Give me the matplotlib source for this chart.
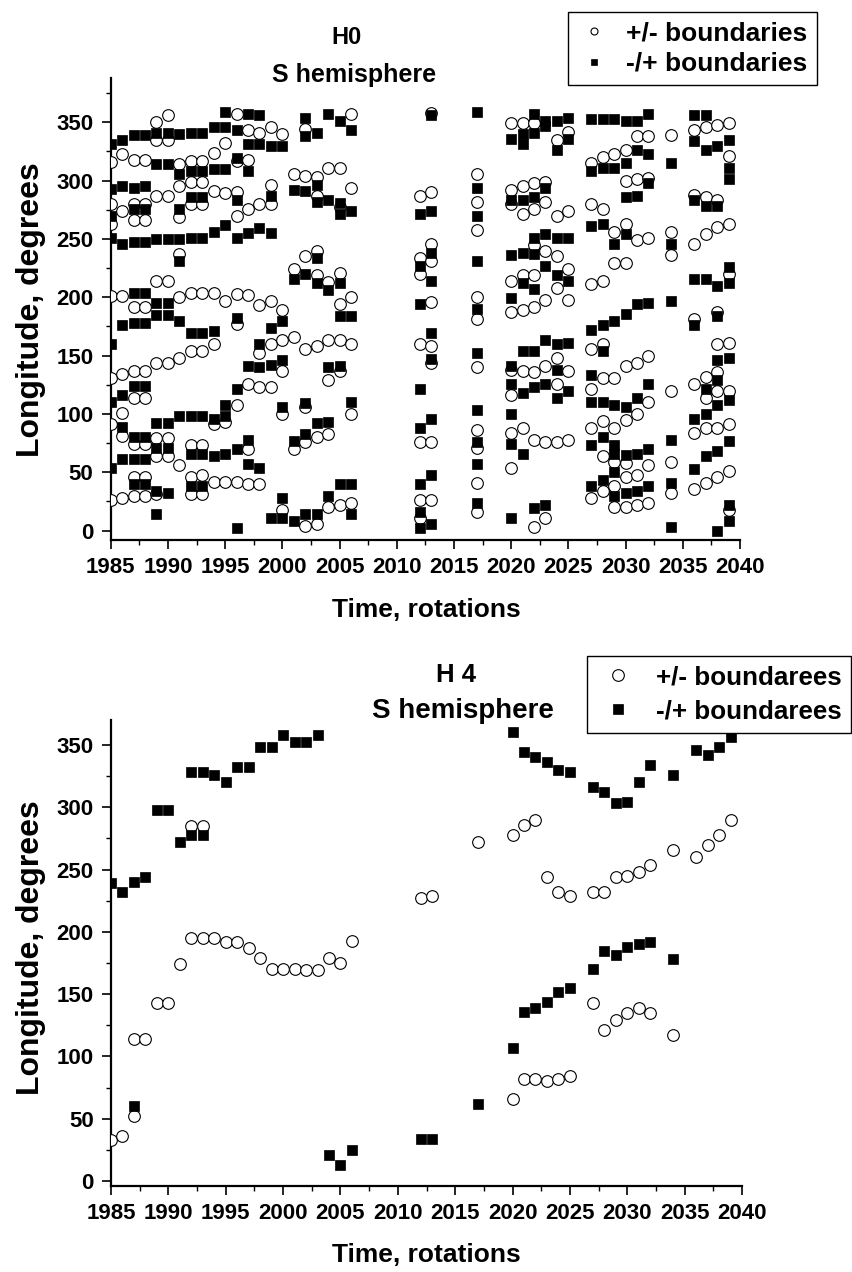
import matplotlib
matplotlib.use("Agg")
import matplotlib.pyplot as plt
from matplotlib.ticker import MultipleLocator

plt.rcParams["font.family"] = ["Liberation Sans", "DejaVu Sans"]
plt.rcParams["font.weight"] = "bold"

# ---------- H0, S hemisphere (longitudes per rotation) ----------
h0_years = [1985, 1986, 1987, 1988, 1989, 1990, 1991, 1992, 1993, 1994,
            1995, 1996, 1997, 1998, 1999, 2000, 2001, 2002, 2003, 2004,
            2005, 2006, 2012, 2013, 2017, 2020, 2021, 2022, 2023, 2024,
            2025, 2027, 2028, 2029, 2030, 2031, 2032, 2034, 2036, 2037,
            2038, 2039]

# +/- boundaries (open circles)
h0_open = [
    [316, 280, 263, 201, 131, 91, 26],
    [323, 274, 201, 134, 101, 81, 28],
    [318, 280, 266, 192, 137, 114, 74, 46, 30],
    [318, 280, 266, 192, 137, 114, 74, 46, 30],
    [350, 335, 287, 214, 144, 79, 64, 31],
    [356, 335, 287, 214, 144, 79, 64],
    [314, 295, 269, 237, 200, 148, 56],
    [317, 299, 280, 204, 154, 73, 46, 31],
    [317, 299, 280, 204, 154, 73, 48, 31],
    [324, 291, 204, 160, 91, 42],
    [332, 289, 197, 93, 42],
    [357, 317, 290, 270, 203, 177, 108, 42],
    [343, 318, 276, 202, 126, 70, 40],
    [341, 280, 193, 152, 123, 40],
    [346, 296, 280, 197, 160, 123],
    [340, 189, 163, 137, 100, 18],
    [306, 224, 166, 70],
    [344, 304, 235, 156, 106, 76, 4],
    [303, 287, 240, 219, 158, 80, 6],
    [311, 213, 163, 129, 83, 20],
    [311, 277, 221, 194, 163, 137, 22],
    [357, 294, 200, 160, 100, 24],
    [287, 234, 220, 160, 76, 26, 11],
    [358, 290, 246, 231, 196, 158, 144, 76, 26],
    [306, 282, 258, 200, 181, 140, 86, 71, 41, 16],
    [349, 292, 280, 214, 187, 138, 116, 84, 54],
    [349, 295, 271, 219, 189, 137, 88],
    [349, 298, 276, 245, 219, 192, 136, 78, 3],
    [299, 282, 240, 198, 141, 76, 11],
    [335, 270, 235, 208, 148, 126, 76],
    [342, 274, 224, 198, 137, 78],
    [315, 280, 211, 156, 121, 88, 28],
    [320, 276, 214, 160, 131, 94, 64, 34],
    [323, 256, 229, 131, 88, 59, 38, 20],
    [326, 300, 263, 229, 141, 95, 58, 46, 20],
    [338, 301, 249, 144, 100, 48, 22],
    [338, 302, 251, 150, 110, 56, 24],
    [339, 256, 236, 120, 59, 32],
    [343, 288, 246, 181, 126, 84, 36],
    [346, 286, 254, 132, 114, 88, 41],
    [348, 283, 260, 187, 160, 136, 120, 88, 46],
    [349, 321, 263, 220, 161, 120, 91, 51, 18],
]

# -/+ boundaries (filled squares)
h0_filled = [
    [331, 293, 270, 251, 160, 110, 54],
    [335, 295, 246, 176, 116, 89, 61],
    [339, 294, 276, 247, 204, 178, 124, 80, 61, 40],
    [339, 295, 276, 247, 204, 178, 124, 80, 61, 40],
    [341, 314, 250, 195, 185, 92, 71, 34, 14],
    [341, 314, 250, 195, 185, 92, 71, 32],
    [340, 306, 276, 250, 231, 180, 98],
    [341, 308, 286, 251, 169, 98, 66, 38],
    [341, 308, 286, 251, 169, 98, 66, 38],
    [346, 310, 256, 171, 96, 64],
    [359, 346, 310, 262, 108, 98, 66],
    [343, 319, 283, 251, 182, 121, 70, 2],
    [357, 331, 308, 255, 141, 78, 57],
    [356, 331, 259, 160, 140, 54],
    [330, 287, 255, 174, 142, 11],
    [330, 180, 146, 106, 28, 11],
    [292, 216, 77, 8],
    [354, 338, 291, 220, 109, 83, 14],
    [341, 296, 282, 234, 212, 92, 14],
    [357, 283, 206, 140, 93, 30],
    [351, 281, 271, 212, 184, 141, 40],
    [343, 274, 184, 110, 40, 14],
    [271, 227, 194, 121, 88, 40, 16, 2],
    [356, 274, 238, 214, 169, 147, 96, 48, 6],
    [359, 294, 270, 231, 190, 152, 103, 76, 57, 24],
    [336, 283, 236, 199, 141, 126, 100, 74, 11],
    [340, 331, 283, 238, 212, 154, 118, 66],
    [357, 341, 286, 251, 237, 207, 154, 123, 19],
    [351, 347, 294, 254, 227, 163, 126, 22],
    [351, 326, 251, 219, 160, 138, 114],
    [354, 336, 251, 214, 161, 120],
    [353, 308, 261, 172, 133, 110, 73, 38],
    [353, 311, 263, 176, 154, 110, 80, 43],
    [353, 311, 246, 180, 108, 73, 66, 50, 30],
    [351, 315, 286, 254, 186, 106, 65, 32],
    [351, 326, 287, 194, 114, 66, 34],
    [357, 323, 298, 195, 126, 70, 38],
    [315, 246, 197, 78, 41, 3],
    [356, 334, 283, 216, 176, 96, 53],
    [356, 326, 278, 216, 121, 100, 64],
    [330, 278, 210, 184, 146, 129, 108, 68, 0],
    [335, 311, 301, 226, 212, 148, 112, 77, 22, 8],
]

# ---------- H4, S hemisphere ----------
h4_open_years = [1985, 1986, 1987, 1987, 1988, 1989, 1990, 1991, 1992, 1992,
                 1993, 1993, 1994, 1995, 1996, 1997, 1998, 1999, 2000, 2001,
                 2002, 2003, 2004, 2005, 2006, 2012, 2013, 2017, 2020, 2020,
                 2021, 2021, 2022, 2022, 2023, 2023, 2024, 2024, 2025, 2025,
                 2027, 2027, 2028, 2028, 2029, 2029, 2030, 2030, 2031, 2031,
                 2032, 2032, 2034, 2034, 2036, 2037, 2038, 2039]
h4_open_lon = [33, 36, 52, 114, 114, 143, 143, 174, 195, 285,
               195, 285, 195, 192, 192, 187, 179, 170, 170, 170,
               169, 169, 179, 175, 193, 227, 229, 272, 278, 66,
               286, 82, 290, 82, 244, 80, 232, 82, 229, 84,
               232, 143, 232, 121, 244, 129, 245, 135, 248, 139,
               254, 135, 266, 117, 260, 270, 278, 290]

h4_filled_years = [1985, 1986, 1987, 1987, 1988, 1989, 1990, 1991, 1992, 1992,
                   1993, 1993, 1994, 1995, 1996, 1997, 1998, 1999, 2000, 2001,
                   2002, 2003, 2004, 2005, 2006, 2012, 2013, 2017, 2020, 2020,
                   2021, 2021, 2022, 2022, 2023, 2023, 2024, 2024, 2025, 2025,
                   2027, 2027, 2028, 2028, 2029, 2029, 2030, 2030, 2031, 2031,
                   2032, 2032, 2034, 2034, 2036, 2037, 2038, 2039]
h4_filled_lon = [239, 232, 240, 60, 244, 298, 298, 272, 328, 278,
                 328, 278, 326, 320, 332, 332, 348, 348, 358, 352,
                 352, 358, 21, 13, 25, 34, 34, 62, 360, 107,
                 344, 136, 340, 139, 336, 144, 330, 152, 328, 155,
                 316, 170, 312, 185, 303, 181, 304, 188, 320, 190,
                 334, 192, 326, 178, 346, 342, 348, 356]


def flatten(years, groups):
    xs = [yr for yr, vals in zip(years, groups) for _ in vals]
    ys = [v for vals in groups for v in vals]
    return xs, ys


W, H = 853, 1272
fig = plt.figure(figsize=(W / 100, H / 100), dpi=100)
fig.patch.set_facecolor("white")

ax_top = fig.add_axes([110.7 / W, 1 - 540 / H, 629.3 / W, 462 / H])
ax_bot = fig.add_axes([111 / W, 1 - 1186 / H, 631 / W, 466 / H])

open_style = dict(ls="none", marker="o", ms=8.4, mfc="white", mec="black", mew=0.8)
fill_style = dict(ls="none", marker="s", ms=7.2, mfc="black", mec="black", mew=0.5)

# top panel
ox, oy = flatten(h0_years, h0_open)
fx, fy = flatten(h0_years, h0_filled)
l1, = ax_top.plot(ox, oy, **open_style, zorder=3)
l2, = ax_top.plot(fx, fy, **fill_style, zorder=4)
ax_top.set_ylim(-8, 388)

# bottom panel
m1, = ax_bot.plot(h4_open_years, h4_open_lon, **open_style, zorder=3)
m2, = ax_bot.plot(h4_filled_years, h4_filled_lon, **fill_style, zorder=4)
ax_bot.set_ylim(-4, 370)

for ax in (ax_top, ax_bot):
    ax.set_xlim(1985, 2040)
    ax.xaxis.set_major_locator(MultipleLocator(5))
    ax.xaxis.set_minor_locator(MultipleLocator(2.5))
    ax.yaxis.set_major_locator(MultipleLocator(50))
    ax.yaxis.set_minor_locator(MultipleLocator(25))
    ax.spines["top"].set_visible(False)
    ax.spines["right"].set_visible(False)
    for s in ("left", "bottom"):
        ax.spines[s].set_linewidth(1.6)
    ax.tick_params(which="major", direction="out", length=6.5, width=1.2,
                   labelsize=16, pad=6)
    ax.tick_params(which="minor", direction="out", length=3.5, width=1.0)
    for lab in ax.get_xticklabels() + ax.get_yticklabels():
        lab.set_fontweight("bold")

# titles and axis labels
fig.text(347 / W, 1 - 37 / H, "H0", ha="center", va="center", fontsize=17)
fig.text(354 / W, 1 - 75 / H, "S hemisphere", ha="center", va="center", fontsize=18)
fig.text(456 / W, 1 - 675 / H, "H 4", ha="center", va="center", fontsize=18.5)
fig.text(463 / W, 1 - 711 / H, "S hemisphere", ha="center", va="center", fontsize=20)

fig.text(426 / W, 1 - 610 / H, "Time, rotations", ha="center", va="center", fontsize=19)
fig.text(426 / W, 1 - 1255 / H, "Time, rotations", ha="center", va="center", fontsize=19)
fig.text(31 / W, 1 - 310 / H, "Longitude, degrees", ha="center", va="center",
         rotation=90, fontsize=23)
fig.text(31 / W, 1 - 948 / H, "Longitude, degrees", ha="center", va="center",
         rotation=90, fontsize=23)

leg_kw = dict(loc="upper left", bbox_transform=fig.transFigure, frameon=True,
              fancybox=False, edgecolor="black", framealpha=1,
              borderpad=0.35, borderaxespad=0)
lg1 = fig.legend([l1, l2], ["+/- boundaries", "-/+ boundaries"],
                 bbox_to_anchor=(568 / W, 1 - 12 / H), markerscale=0.6,
                 fontsize=19, labelspacing=0.25, handlelength=1.3,
                 handletextpad=0.55, **leg_kw)
lg2 = fig.legend([m1, m2], ["+/- boundarees", "-/+ boundarees"],
                 bbox_to_anchor=(587 / W, 1 - 656 / H), markerscale=1.0,
                 fontsize=18.7, labelspacing=0.4, handlelength=1.7,
                 handletextpad=0.6, **leg_kw)
for lg in (lg1, lg2):
    lg.get_frame().set_linewidth(1.0)
    lg.set_zorder(10)

fig.savefig("out.png", dpi=100, facecolor="white")
plt.close(fig)
